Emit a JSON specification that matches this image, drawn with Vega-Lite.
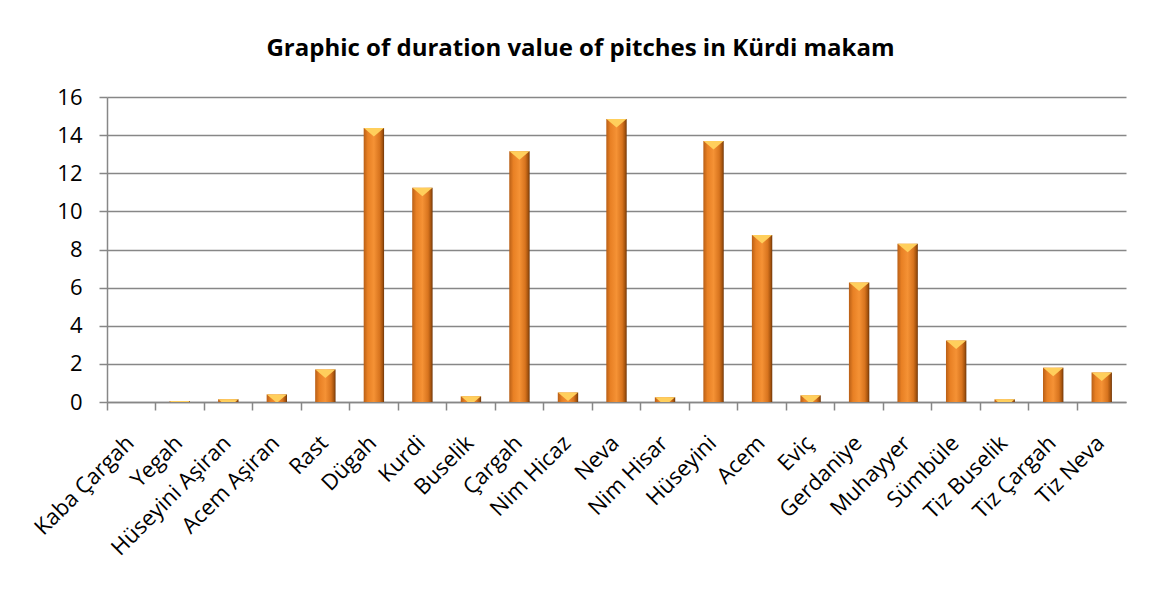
{
  "$schema": "https://vega.github.io/schema/vega-lite/v6.json",
  "width": 1019,
  "height": 305,
  "autosize": {"type": "none"},
  "padding": {"left": 107, "top": 97, "right": 30, "bottom": 194},
  "background": "white",
  "config": {"view": {"stroke": null}, "font": "Open Sans"},
  "title": {
    "text": "Graphic of duration value of pitches in Kürdi makam",
    "font": "Open Sans",
    "fontSize": 24,
    "fontWeight": "bold",
    "color": "#000000",
    "anchor": "middle",
    "frame": "group",
    "dx": -36,
    "offset": 25
  },
  "data": {
    "values": [
      {"pitch": "Kaba Çargah", "value": 0},
      {"pitch": "Yegah", "value": 0.05},
      {"pitch": "Hüseyini Aşiran", "value": 0.14},
      {"pitch": "Acem Aşiran", "value": 0.4},
      {"pitch": "Rast", "value": 1.71},
      {"pitch": "Dügah", "value": 14.38},
      {"pitch": "Kurdi", "value": 11.24},
      {"pitch": "Buselik", "value": 0.3},
      {"pitch": "Çargah", "value": 13.16},
      {"pitch": "Nim Hicaz", "value": 0.5},
      {"pitch": "Neva", "value": 14.84},
      {"pitch": "Nim Hisar", "value": 0.25},
      {"pitch": "Hüseyini", "value": 13.69},
      {"pitch": "Acem", "value": 8.76},
      {"pitch": "Eviç", "value": 0.35},
      {"pitch": "Gerdaniye", "value": 6.27},
      {"pitch": "Muhayyer", "value": 8.3},
      {"pitch": "Sümbüle", "value": 3.23},
      {"pitch": "Tiz Buselik", "value": 0.14},
      {"pitch": "Tiz Çargah", "value": 1.8},
      {"pitch": "Tiz Neva", "value": 1.55}
    ]
  },
  "encoding": {
    "x": {
      "field": "pitch",
      "type": "nominal",
      "sort": null,
      "title": null,
      "scale": {"paddingInner": 0, "paddingOuter": 0},
      "axis": {
        "bandPosition": 0,
        "domainColor": "#878787",
        "domainWidth": 1.5,
        "tickColor": "#878787",
        "tickWidth": 1.5,
        "tickSize": 8,
        "labelAngle": -45,
        "labelAlign": "right",
        "labelBaseline": "top",
        "labelOffset": -8,
        "labelPadding": 22,
        "labelFont": "Open Sans",
        "labelFontSize": 22,
        "labelColor": "#000000",
        "labelOverlap": false,
        "labelLimit": 300,
        "grid": false
      }
    },
    "y": {
      "field": "value",
      "type": "quantitative",
      "title": null,
      "scale": {"domain": [0, 16], "nice": false},
      "axis": {
        "values": [0, 2, 4, 6, 8, 10, 12, 14, 16],
        "grid": true,
        "gridColor": "#878787",
        "gridWidth": 1.5,
        "domainColor": "#878787",
        "domainWidth": 1.5,
        "tickColor": "#878787",
        "tickWidth": 1.5,
        "tickSize": 8,
        "labelPadding": 17,
        "labelFont": "Open Sans",
        "labelFontSize": 22,
        "labelColor": "#000000"
      }
    }
  },
  "layer": [
    {
      "mark": {
        "type": "bar",
        "width": {"band": 0.42},
        "color": {
          "gradient": "linear",
          "x1": 0, "x2": 1, "y1": 0, "y2": 0,
          "stops": [
            {"offset": 0, "color": "#B95F16"},
            {"offset": 0.2, "color": "#E88024"},
            {"offset": 0.5, "color": "#F59235"},
            {"offset": 0.78, "color": "#D8741E"},
            {"offset": 0.92, "color": "#A4530E"},
            {"offset": 1, "color": "#6E3508"}
          ]
        }
      }
    },
    {
      "mark": {
        "type": "point",
        "shape": "M-1,-1L1,-1L0,-0.15Z",
        "size": 400,
        "filled": true,
        "opacity": 1,
        "color": "#FFCF5C",
        "yOffset": 10,
        "clip": true
      }
    }
  ]
}
